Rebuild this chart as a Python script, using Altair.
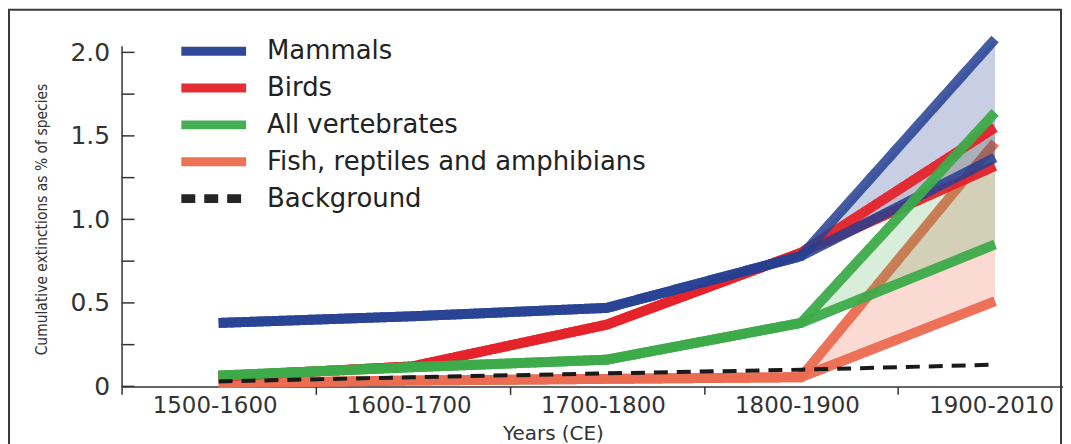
import altair as alt
import pandas as pd

categories = ["1500-1600", "1600-1700", "1700-1800", "1800-1900", "1900-2010"]
groups = ["Mammals", "Birds", "All vertebrates", "Fish, reptiles and amphibians", "Background"]
colors = ["#243f92", "#e4232a", "#3dab4a", "#eb6b50", "#1a1a1a"]

# shared values for the first four periods, then [conservative, highly conservative] for 1900-2010
mammals = [0.38, 0.42, 0.47, 0.78]
mammals_end = [2.08, 1.37]
birds = [0.06, 0.12, 0.37, 0.80]
birds_end = [1.55, 1.32]
vertebrates = [0.065, 0.115, 0.16, 0.38]
vertebrates_end = [1.64, 0.85]
fish = [0.02, 0.035, 0.045, 0.055]
fish_end = [1.46, 0.51]
background = [0.03, 0.055, 0.078, 0.10, 0.13]

y_labels = [0, 0.5, 1.0, 1.5, 2.0]
y_ticks = [0, 0.25, 0.5, 0.75, 1.0, 1.25, 1.5, 1.75, 2.0]

series = {
    "Mammals": (mammals, mammals_end),
    "Birds": (birds, birds_end),
    "All vertebrates": (vertebrates, vertebrates_end),
    "Fish, reptiles and amphibians": (fish, fish_end),
}

line_rows = []
area_rows = []
for g, (shared, ends) in series.items():
    for vi, variant in enumerate(["upper", "lower"]):
        for i, v in enumerate(shared):
            line_rows.append({"group": g, "variant": variant, "idx": i, "value": v})
        line_rows.append({"group": g, "variant": variant, "idx": 4, "value": ends[vi]})
    area_rows.append({"group": g, "idx": 3, "hi": shared[3], "lo": shared[3]})
    area_rows.append({"group": g, "idx": 4, "hi": ends[0], "lo": ends[1]})
for i, v in enumerate(background):
    line_rows.append({"group": "Background", "variant": "only", "idx": i, "value": v})

lines_df = pd.DataFrame(line_rows)
areas_df = pd.DataFrame(area_rows)
ticks_df = pd.DataFrame({"v": y_ticks})

W, H = 945, 342
half_band = W / 4.85 / 2

label_js = "[" + ",".join("'%s'" % c for c in categories) + "][datum.value]"

FONT = "DejaVu Sans"
NARROW = "Liberation Sans Narrow, Noto Sans ExtraCondensed, Noto Sans Condensed, DejaVu Sans Condensed, sans-serif"

x_scale = alt.Scale(domain=[-0.5, 4.35], nice=False, zero=False)
y_scale = alt.Scale(domain=[0, 2.04], nice=False, zero=True)

x_axis = alt.Axis(
    values=[0, 1, 2, 3, 4], labelExpr=label_js, tickSize=8, tickOffset=-half_band,
    labelOffset=half_band - 4, labelPadding=0, labelFont=FONT, labelFontSize=23,
    labelColor="#333", domainColor="#333", domainWidth=1.5, tickColor="#333", tickWidth=1.5,
    grid=False, title="Years (CE)", titleFont=FONT, titleFontSize=20, titleFontWeight="normal",
    titleColor="#333", titleX=433, titleY=53, titleAlign="center", titleBaseline="alphabetic",
)
y_axis = alt.Axis(
    values=y_labels, labelExpr="datum.value == 0 ? '0' : format(datum.value, '.1f')",
    tickSize=0, labelPadding=12, labelFont=FONT, labelFontSize=25, labelColor="#333",
    domainColor="#333", domainWidth=1.5, grid=False,
    title="Cumulative extinctions as % of species",
    titleFont=NARROW, titleFontSize=15.5,
    titleFontWeight="normal", titleColor="#333", titleX=-80, titleY=H / 2 + 3,
    titleAngle=270, titleAlign="center", titleBaseline="middle",
)

color_scale = alt.Scale(domain=groups, range=colors)
dash_scale = alt.Scale(domain=groups, range=[[1, 0], [1, 0], [1, 0], [1, 0], [14, 9]])

# long horizontal stroke symbol: 10 units wide in Vega's [-1, 1] symbol box
legend = alt.Legend(
    orient="none", legendX=79.5, legendY=-7.5, symbolType="M-5,0H5",
    symbolSize=13 * 13, symbolStrokeWidth=9, symbolFillColor="transparent",
    labelFont=FONT, labelFontSize=26,
    labelColor="#222", labelOffset=40.5, rowPadding=1, padding=0, title="",
    labelLimit=0,
)

area_opacity = {"Mammals": 0.25, "Birds": 0.12, "All vertebrates": 0.2,
                "Fish, reptiles and amphibians": 0.25}
area_order = ["Fish, reptiles and amphibians", "All vertebrates", "Birds", "Mammals"]
line_opacity = {"Mammals": 0.85, "Birds": 0.95, "All vertebrates": 0.95,
                "Fish, reptiles and amphibians": 0.95, "Background": 1}

layers = []
line_order = ["Fish, reptiles and amphibians", "Birds", "Mammals", "All vertebrates", "Background"]
for g in line_order:
    sw = 4 if g == "Background" else 10
    layers.append(
        alt.Chart(lines_df).transform_filter(alt.datum.group == g)
        .mark_line(strokeWidth=sw, strokeCap="butt", opacity=line_opacity[g])
        .encode(
            x=alt.X("idx:Q", scale=x_scale, axis=x_axis),
            y=alt.Y("value:Q", scale=y_scale, axis=y_axis),
            color=alt.Color("group:N", scale=color_scale, legend=legend),
            strokeDash=alt.StrokeDash("group:N", scale=dash_scale, legend=legend),
            detail="variant:N",
        )
    )

area_layers = []
for g in area_order:
    area_layers.append(
        alt.Chart(areas_df).transform_filter(alt.datum.group == g)
        .mark_area(opacity=area_opacity[g], color=colors[groups.index(g)])
        .encode(
            x=alt.X("idx:Q", scale=x_scale),
            y=alt.Y("hi:Q", scale=y_scale),
            y2="lo:Q",
        )
    )

inner_ticks = alt.Chart(ticks_df).mark_rule(color="#333", strokeWidth=1.5).encode(
    x=alt.value(0), x2=alt.value(13), y=alt.Y("v:Q", scale=y_scale)
)

frame = alt.Chart(pd.DataFrame({"a": [0]})).mark_rect(
    fillOpacity=0, stroke="#3a3a3a", strokeWidth=2
).encode(x=alt.value(-113), x2=alt.value(943), y=alt.value(-36), y2=alt.value(402))

chart = alt.layer(*(layers[:1] + area_layers + layers[1:] + [inner_ticks, frame])).properties(
    width=W, height=H, padding={"left": 0, "top": 0, "right": 0, "bottom": 0},
    background="white",
).configure_view(stroke=None)

chart.save("out.html", embed_options={"renderer": "svg", "actions": False})
